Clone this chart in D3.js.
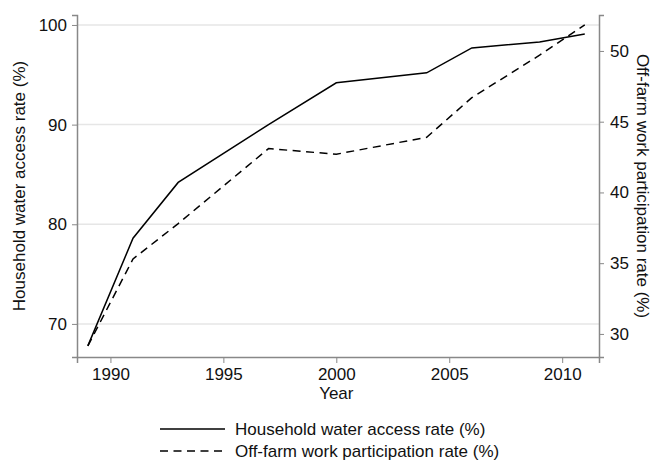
<!DOCTYPE html>
<html>
<head>
<meta charset="utf-8">
<script src="https://cdn.jsdelivr.net/npm/d3@7"></script>
<style>
    body { margin: 0; background: #fff; }
    svg { font-family: "Liberation Sans", Arial, sans-serif; }
    .axis path, .axis line { stroke: #888; }
    .axis text { fill: #111; font-size: 17px; }
</style>
</head>
<body>
<svg id="chart" width="653" height="462"></svg>
<script>
"use strict";

var years = [1989, 1991, 1993, 1997, 2000, 2004, 2006, 2009, 2011];
var waterAccess = [67.8, 78.6, 84.2, 90.0, 94.2, 95.2, 97.7, 98.3, 99.1];
var offFarm = [29.15, 35.3, 37.8, 43.1, 42.7, 43.9, 46.7, 49.7, 51.85];
var xTicks = [1990, 1995, 2000, 2005, 2010];
var leftTicks = [70, 80, 90, 100];
var rightTicks = [30, 35, 40, 45, 50];
var seriesNames = ['Household water access rate (%)', 'Off-farm work participation rate (%)'];

var svg = d3.select('#chart');
var plotLeft = 77, plotRight = 599, plotTop = 15, plotBottom = 357;

var x = d3.scaleLinear().domain([1988.52, 2011.63]).range([plotLeft, plotRight]);
var yL = d3.scaleLinear().domain([66.68, 101.0]).range([plotBottom, plotTop]);
var yR = d3.scaleLinear().domain([28.37, 52.54]).range([plotBottom, plotTop]);

// gridlines
svg.append('g').selectAll('line').data(leftTicks).enter().append('line')
    .attr('x1', plotLeft).attr('x2', plotRight)
    .attr('y1', function (d) { return yL(d); })
    .attr('y2', function (d) { return yL(d); })
    .style('stroke', '#e6e6e6').style('stroke-width', 1.5);

var gX = svg.append('g').attr('class', 'axis')
    .attr('transform', 'translate(0,' + plotBottom + ')')
    .call(d3.axisBottom(x).tickValues(xTicks).tickFormat(d3.format('d')).tickSizeOuter(0).tickSize(6).tickPadding(5));
var gL = svg.append('g').attr('class', 'axis')
    .attr('transform', 'translate(' + plotLeft + ',0)')
    .call(d3.axisLeft(yL).tickValues(leftTicks).tickSizeOuter(0).tickSize(5).tickPadding(5));
var gR = svg.append('g').attr('class', 'axis')
    .attr('transform', 'translate(' + plotRight + ',0)')
    .call(d3.axisRight(yR).tickValues(rightTicks).tickSizeOuter(0).tickSize(5).tickPadding(6));
svg.selectAll('.axis path').style('stroke-width', 1.5);

// axis titles
svg.append('text').attr('transform', 'translate(25,' + (plotTop + plotBottom) / 2 + ') rotate(-90)')
    .attr('text-anchor', 'middle').style('font-size', '17px').style('fill', '#111')
    .text(seriesNames[0]);
svg.append('text').attr('transform', 'translate(637,' + (plotTop + plotBottom) / 2 + ') rotate(90)')
    .attr('text-anchor', 'middle').style('font-size', '17px').style('fill', '#111')
    .text(seriesNames[1]);
svg.append('text').attr('x', x(2000)).attr('y', 399)
    .attr('text-anchor', 'middle').style('font-size', '17px').style('fill', '#111')
    .text('Year');

var lineL = d3.line().x(function (d, i) { return x(years[i]); }).y(function (d) { return yL(d); });
var lineR = d3.line().x(function (d, i) { return x(years[i]); }).y(function (d) { return yR(d); });

svg.append('path').datum(waterAccess).attr('d', lineL)
    .style('fill', 'none').style('stroke', '#000').style('stroke-width', 1.5);
svg.append('path').datum(offFarm).attr('d', lineR)
    .style('fill', 'none').style('stroke', '#000').style('stroke-width', 1.5)
    .style('stroke-dasharray', '8,5.5');

// legend
var legend = [
    { name: seriesNames[0], dash: null, y: 429 },
    { name: seriesNames[1], dash: '8,5.5', y: 451 }
];
for (var i = 0; i < legend.length; i++) {
    var g = svg.append('g').attr('transform', 'translate(0,' + legend[i].y + ')');
    g.append('line').attr('x1', 160).attr('x2', 225)
        .style('stroke', '#000').style('stroke-width', 1.5)
        .style('stroke-dasharray', legend[i].dash);
    g.append('text').attr('x', 235).attr('y', 6)
        .style('font-size', '17px').style('fill', '#111').text(legend[i].name);
}
</script>
</body>
</html>
